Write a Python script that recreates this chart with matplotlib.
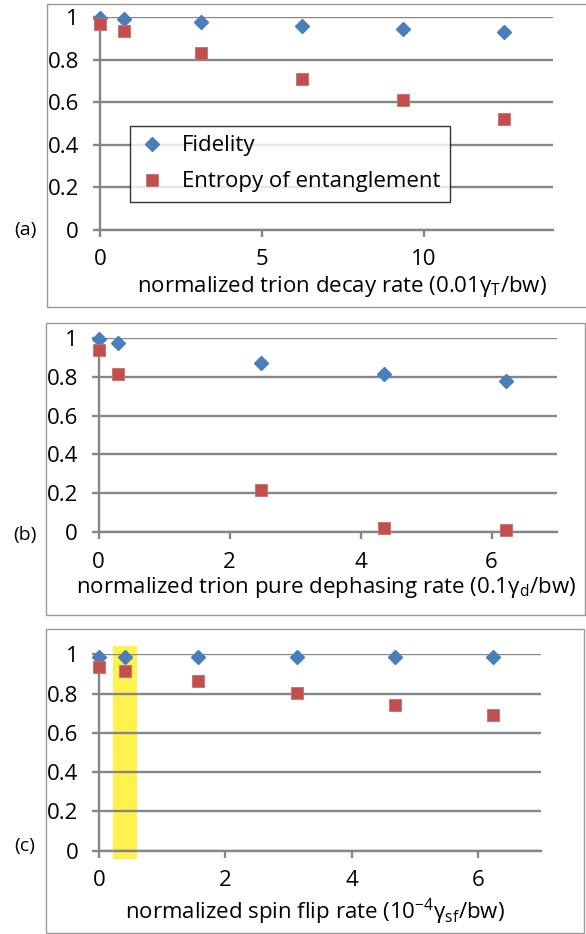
import matplotlib
matplotlib.use("Agg")
import matplotlib.pyplot as plt
from matplotlib.patches import Rectangle

plt.rcParams['font.family'] = ['Open Sans', 'DejaVu Sans']
plt.rcParams['mathtext.fontset'] = 'custom'
plt.rcParams['mathtext.rm'] = 'Open Sans'
plt.rcParams['mathtext.default'] = 'regular'

# panel (a): trion decay rate
x_a = [0, 0.75, 3.125, 6.25, 9.375, 12.5]
fid_a = [0.995, 0.989, 0.975, 0.958, 0.942, 0.928]
ent_a = [0.969, 0.933, 0.831, 0.710, 0.608, 0.520]

# panel (b): trion pure dephasing rate
x_b = [0, 0.29, 2.48, 4.35, 6.22]
fid_b = [0.991, 0.973, 0.872, 0.814, 0.778]
ent_b = [0.935, 0.815, 0.216, 0.024, 0.010]

# panel (c): spin flip rate
x_c = [0, 0.40, 1.57, 3.13, 4.69, 6.25]
fid_c = [0.988, 0.988, 0.988, 0.988, 0.988, 0.988]
ent_c = [0.934, 0.915, 0.866, 0.801, 0.744, 0.689]

yticks = [0, 0.2, 0.4, 0.6, 0.8, 1]
ytick_labels = ['0', '0.2', '0.4', '0.6', '0.8', '1']

W, H = 586, 934
BLUE = '#4a7ebb'
RED = '#c0504d'
GRID = '#868686'
FS = 16

fig = plt.figure(figsize=(W / 100, H / 100), dpi=100)


def px_axes(left, right, top, bottom):
    return fig.add_axes([left / W, 1 - bottom / H, (right - left) / W, (bottom - top) / H])


def frame(left, right, top, bottom):
    fig.patches.append(Rectangle((left / W, 1 - bottom / H), (right - left) / W, (bottom - top) / H,
                                 transform=fig.transFigure, fill=False, edgecolor='#9a9a9a', lw=1.0))


def panel(ax, xs, fid, ent, xmax, xticks):
    ax.set_xlim(0, xmax)
    ax.set_ylim(0, 1)
    ax.set_yticks(yticks)
    ax.set_yticklabels(ytick_labels)
    ax.set_xticks(xticks)
    ax.grid(axis='y', color=GRID, lw=1.7, zorder=1)
    ax.set_axisbelow(True)
    for s in ['top', 'right']:
        ax.spines[s].set_visible(False)
    ax.spines['left'].set_color(GRID)
    ax.spines['left'].set_linewidth(1.7)
    ax.spines['bottom'].set_color(GRID)
    ax.spines['bottom'].set_linewidth(1.7)
    ax.tick_params(axis='both', colors=GRID, width=1.7, length=5, labelsize=FS, labelcolor='black')
    ax.tick_params(axis='y', pad=10)
    ax.tick_params(axis='x', pad=9)
    ax.patch.set_alpha(0)
    ax.plot(xs, fid, 'D', color=BLUE, ms=7, mec=BLUE, clip_on=False, zorder=3, label='Fidelity')
    ax.plot(xs, ent, 's', color=RED, ms=8.5, mec='#d46a67', mew=0.6, clip_on=False, zorder=3,
            label='Entropy of entanglement')


# frames around each panel
frame(46.5, 588, 4, 307)
frame(45.5, 585, 322.5, 615)
frame(45.5, 584, 629, 933)

ax_a = px_axes(99.8, 553, 17, 230)
panel(ax_a, x_a, fid_a, ent_a, 14, [0, 5, 10])
leg = ax_a.legend(loc='upper left', bbox_to_anchor=((129.7 - 99.8) / 453.2, (230 - 126) / 213),
                  frameon=True, fancybox=False, fontsize=FS, borderpad=0.42, labelspacing=0.68,
                  handletextpad=0.75, handlelength=1.2, borderaxespad=0)
leg.get_frame().set_edgecolor('black')
leg.get_frame().set_linewidth(1.0)

ax_b = px_axes(98.7, 557, 337.7, 532.3)
panel(ax_b, x_b, fid_b, ent_b, 7, [0, 2, 4, 6])

ax_c = px_axes(99.4, 540.7, 654.3, 850.7)
ax_c.add_patch(Rectangle((0.21, -0.04), 0.39, 1.08, facecolor='#fff24f', edgecolor='none',
                         clip_on=False, zorder=0.5))
panel(ax_c, x_c, fid_c, ent_c, 7, [0, 2, 4, 6])

fig.text(341.5 / W, 1 - 291.7 / H, 'normalized trion decay rate (0.01γ$_{T}$/bw)',
         ha='center', va='baseline', fontsize=FS)
fig.text(326 / W, 1 - 593 / H, 'normalized trion pure dephasing rate (0.1γ$_{d}$/bw)',
         ha='center', va='baseline', fontsize=FS)
fig.text(315 / W, 1 - 919.3 / H, 'normalized spin flip rate (10$^{-4}$γ$_{sf}$/bw)',
         ha='center', va='baseline', fontsize=FS)

fig.text(25 / W, 1 - 230 / H, '(a)', ha='center', va='center', fontsize=14)
fig.text(25 / W, 1 - 535 / H, '(b)', ha='center', va='center', fontsize=14)
fig.text(25 / W, 1 - 846 / H, '(c)', ha='center', va='center', fontsize=14)

fig.savefig('out.png', dpi=100)
